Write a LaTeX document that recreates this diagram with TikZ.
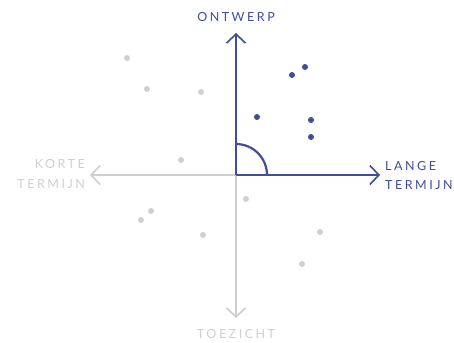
\documentclass[tikz,border=0pt]{standalone}
\usepackage{fontspec}
\setmainfont{Lato}[LetterSpace=20]
\usetikzlibrary{arrows.meta}
\definecolor{navy}{HTML}{3F4D9A}
\definecolor{lgray}{HTML}{CFCFCF}
\tikzset{
  axis/.style={line width=1.6pt, -{Straight Barb[length=9pt,width=19pt,line width=1.6pt]}},
  bdot/.style={circle, fill=navy, inner sep=0pt, minimum size=6pt},
  gdot/.style={circle, fill=lgray, inner sep=0pt, minimum size=6pt},
  lbl/.style={font=\fontsize{12.5}{19.5}\selectfont, inner sep=0pt}
}
\begin{document}
\begin{tikzpicture}[x=1pt,y=-1pt]
\useasboundingbox (0,0) rectangle (454,342);
\coordinate (o) at (236,175);
\coordinate (top) at (236,33);
\coordinate (bot) at (236,318);
\coordinate (lft) at (90,175);
\coordinate (rgt) at (380,175);
\draw[axis, lgray] (o) -- (lft);
\draw[axis, lgray] (o) -- (bot);
\draw[axis, navy] (o) -- (top);
\draw[axis, navy] (o) -- (rgt);
\draw[navy, line width=2.2pt] (236,144) arc[start angle=-90, end angle=0, radius=31];
\node[lbl, navy] (ontwerp) at (236,17) {ONTWERP};
\node[lbl, lgray, anchor=east, align=right] (korte) at (85,174) {KORTE\\TERMIJN};
\node[lbl, navy, anchor=west, align=left] (lange) at (385,175.5) {LANGE\\TERMIJN};
\node[lbl, lgray] (toezicht) at (236,334) {TOEZICHT};
\foreach \p/\n in {{305,67}/b1,{292,75}/b2,{257,117}/b3,{311,120}/b4,{311,137}/b5}
  \node[bdot] (\n) at (\p) {};
\foreach \p/\n in {{127,58}/g1,{147,89}/g2,{201,92}/g3,{181,160}/g4,{246,199}/g5,{151,211}/g6,{141,220}/g7,{203,235}/g8,{320,232}/g9,{302,264}/g10}
  \node[gdot] (\n) at (\p) {};
\end{tikzpicture}
\end{document}
